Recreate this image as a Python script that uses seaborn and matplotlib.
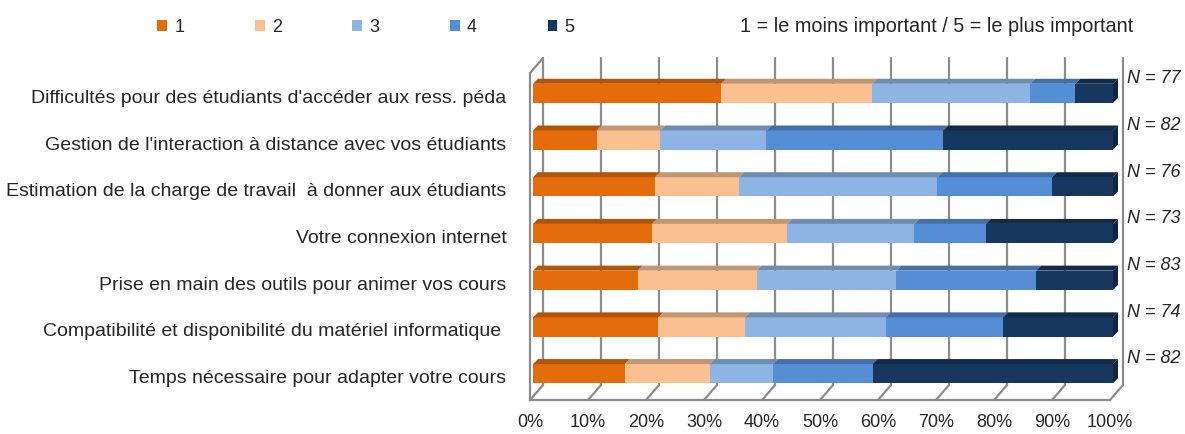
import matplotlib
matplotlib.use("Agg")
import matplotlib.pyplot as plt
import seaborn as sns
import numpy as np
from matplotlib.patches import Polygon, Patch
from matplotlib.transforms import ScaledTranslation

# --- Data (counts per importance level) ---
questions = [
    "Difficultés pour des étudiants d'accéder aux ress. péda",
    "Gestion de l'interaction à distance avec vos étudiants",
    "Estimation de la charge de travail  à donner aux étudiants",
    "Votre connexion internet",
    "Prise en main des outils pour animer vos cours",
    "Compatibilité et disponibilité du matériel informatique ",
    "Temps nécessaire pour adapter votre cours",
]
level_1 = [25, 9, 16, 15, 15, 16, 13]
level_2 = [20, 9, 11, 17, 17, 11, 12]
level_3 = [21, 15, 26, 16, 20, 18, 9]
level_4 = [6, 25, 15, 9, 20, 15, 14]
level_5 = [5, 24, 8, 16, 11, 14, 34]
n_labels = ["N = 77", "N = 82", "N = 76", "N = 73", "N = 83", "N = 74", "N = 82"]
levels = ["1", "2", "3", "4", "5"]

colors = ["#E46C0A", "#FAC090", "#8EB4E3", "#558ED5", "#17375E"]
top_colors = ["#B25508", "#C39571", "#6F8CB1", "#4270A7", "#112B49"]
side_color = "#0E2440"
grid_color = "#8C8C8C"

counts = np.array([level_1, level_2, level_3, level_4, level_5], dtype=float)
pct = counts / counts.sum(axis=0) * 100
cum = np.cumsum(pct, axis=0)
starts = cum - pct

# --- Style ---
sns.set_style("white")
plt.rcParams["font.family"] = ["Liberation Sans", "DejaVu Sans"]

fig = plt.figure(figsize=(11.85, 4.34), dpi=100)
# axes = front plane of the 3D box: x 0..100 -> px 530..1110, y wall 73..400
ax = fig.add_axes([530 / 1185, 34 / 434, 580 / 1185, 327 / 434])

PX = 100 / 580   # data-x per pixel
PY = 7 / 327     # data-y per pixel
bar_h = 0.41

# front faces: overlay cumulative bars, longest first
for k in range(4, -1, -1):
    sns.barplot(x=cum[k], y=questions, color=colors[k], width=bar_h,
                saturation=1, orient="h", errorbar=None, ax=ax, zorder=3)

shift = ScaledTranslation(3 / 100, 3 / 100, fig.dpi_scale_trans)
for p in ax.patches:
    p.set_transform(ax.transData + shift)
    p.set_linewidth(0)
    p.set_clip_on(False)

ax.set_xlim(0, 100)
ax.set_ylim(6.5, -0.5)
ax.set_xlabel("")
ax.set_ylabel("")

# top faces and right side (depth effect)
dxd, dyd = 5 * PX, -5 * PY
fx, fy = 3 * PX, -3 * PY
for i in range(len(questions)):
    yt = i + fy - bar_h / 2
    yb = i + fy + bar_h / 2
    for k in range(5):
        x0 = starts[k, i] + fx
        x1 = cum[k, i] + fx
        ax.add_patch(Polygon([(x0, yt), (x1, yt), (x1 + dxd, yt + dyd), (x0 + dxd, yt + dyd)],
                             closed=True, facecolor=top_colors[k], edgecolor="none",
                             zorder=3, clip_on=False))
    x1 = cum[4, i] + fx
    ax.add_patch(Polygon([(x1, yt), (x1, yb), (x1 + dxd, yb + dyd), (x1 + dxd, yt + dyd)],
                         closed=True, facecolor=side_color, edgecolor="none",
                         zorder=3, clip_on=False))

# back wall gridlines, floor diagonals
bx, by = 13 * PX, -15 * PY
ticks = np.arange(0, 101, 10)
for t in ticks:
    ax.plot([t + bx, t + bx], [6.5 + by, -0.5 + by], color=grid_color, lw=1.6,
            zorder=1, clip_on=False)
    ax.plot([t, t + bx], [6.5, 6.5 + by], color=grid_color, lw=1.6,
            zorder=1, clip_on=False)
ax.plot([0, bx], [-0.5, -0.5 + by], color=grid_color, lw=1.6, zorder=1, clip_on=False)

for s in ["top", "right"]:
    ax.spines[s].set_visible(False)
for s in ["left", "bottom"]:
    ax.spines[s].set_color(grid_color)
    ax.spines[s].set_linewidth(1.6)

ax.set_xticks(ticks)
ax.set_xticklabels([f"{t}%" for t in ticks], fontsize=13)
ax.set_yticks(range(len(questions)))
ax.set_yticklabels(questions, fontsize=14)
ax.set_yticks(np.arange(-0.5, 7, 1), minor=True)
ax.tick_params(axis="x", length=4, width=1.6, color=grid_color, pad=6, direction="out")
ax.tick_params(axis="y", which="major", length=0, pad=17)
ax.tick_params(axis="y", which="minor", length=4, width=1.6, color=grid_color, direction="out")

# N labels
for i, lab in enumerate(n_labels):
    ax.text(100 + 17 * PX, i - 0.38, lab, fontsize=13, fontstyle="italic",
            va="center", ha="left", clip_on=False)

# legend
handles = [Patch(facecolor=c, edgecolor="none") for c in colors]
fig.legend(handles, levels, ncol=5, loc="center left",
           bbox_to_anchor=(141 / 1185, 1 - 27 / 434), frameon=False,
           fontsize=13, handlelength=0.55, handleheight=0.55,
           handletextpad=0.4, columnspacing=3.9)
fig.text(740 / 1185, 1 - 27 / 434, "1 = le moins important / 5 = le plus important",
         fontsize=14.3, va="center", ha="left")

plt.savefig("out.png", dpi=100)
